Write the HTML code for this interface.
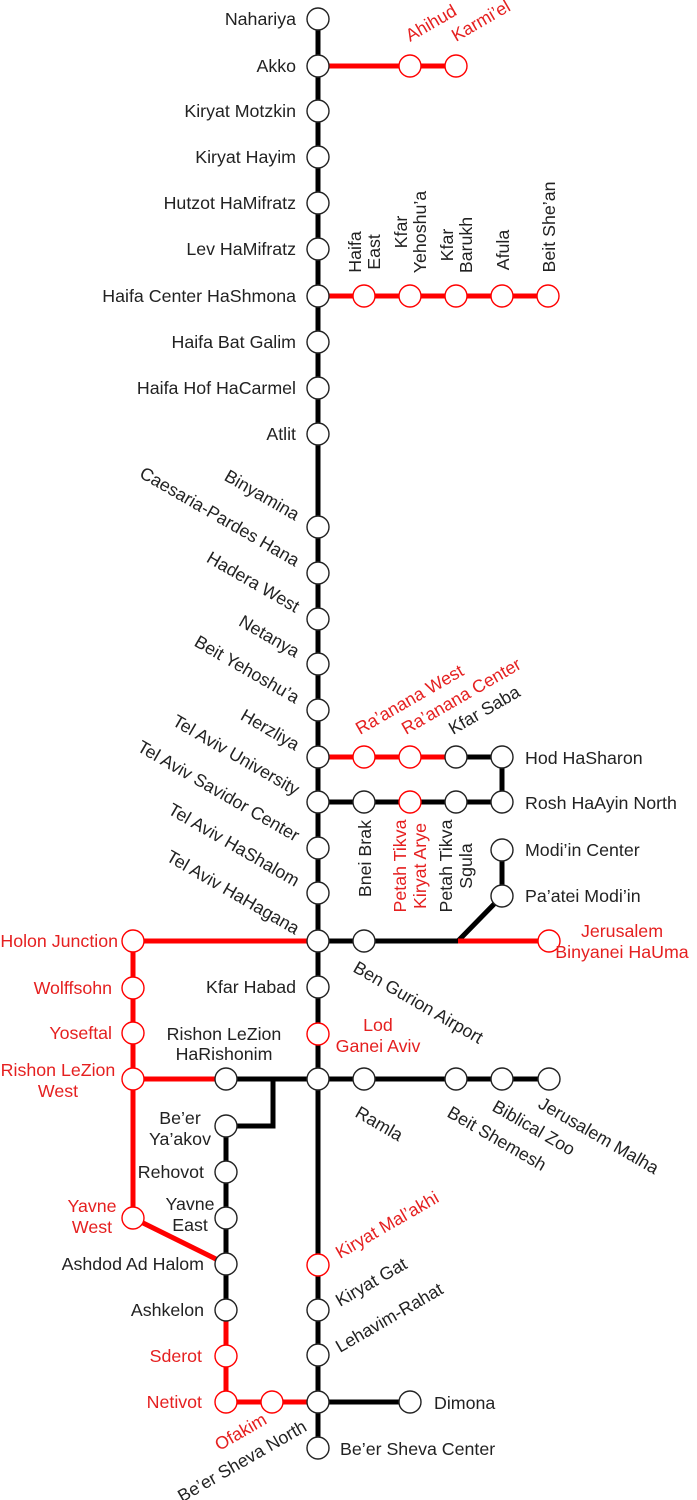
<!DOCTYPE html>
<html><head><meta charset="utf-8"><style>
html,body{margin:0;padding:0;background:#fff;}
svg{display:block;}
text{font-family:"Liberation Sans",Arial,sans-serif;font-size:17.8px;fill:#222;}
.r{fill:#e52020;}
.e{text-anchor:end;}
.m{text-anchor:middle;}
</style></head><body>
<svg width="697" height="1500" viewBox="0 0 697 1500" xmlns="http://www.w3.org/2000/svg">
<g fill="none" stroke-width="5" stroke-linejoin="miter">
<g stroke="#000">
<line x1="318" y1="19" x2="318" y2="1448"/>
<line x1="456" y1="757" x2="502" y2="757"/>
<line x1="502" y1="757" x2="502" y2="802"/>
<line x1="318" y1="802" x2="502" y2="802"/>
<line x1="502" y1="850" x2="502" y2="896"/>
<polyline points="318,941 458,941 502,896"/>
<line x1="226" y1="1079" x2="549" y2="1079"/>
<polyline points="226,1126 273,1126 273,1079"/>
<line x1="226" y1="1126" x2="226" y2="1310"/>
<line x1="318" y1="1402" x2="410" y2="1402"/>
</g>
<g stroke="#f00">
<line x1="318" y1="66" x2="456" y2="66"/>
<line x1="318" y1="296" x2="548" y2="296"/>
<line x1="318" y1="757" x2="456" y2="757"/>
<line x1="458" y1="941" x2="549" y2="941"/>
<line x1="133" y1="941" x2="318" y2="941"/>
<line x1="133" y1="941" x2="133" y2="1218"/>
<line x1="133" y1="1079" x2="226" y2="1079"/>
<line x1="133" y1="1218" x2="226" y2="1264"/>
<line x1="226" y1="1310" x2="226" y2="1402"/>
<line x1="226" y1="1402" x2="318" y2="1402"/>
</g>
</g>
<g fill="#fff" stroke="#222" stroke-width="1.4">
<circle cx="318" cy="19" r="11"/><circle cx="318" cy="66" r="11"/><circle cx="318" cy="111" r="11"/>
<circle cx="318" cy="157" r="11"/><circle cx="318" cy="203" r="11"/><circle cx="318" cy="249" r="11"/>
<circle cx="318" cy="296" r="11"/><circle cx="318" cy="342" r="11"/><circle cx="318" cy="388" r="11"/>
<circle cx="318" cy="434" r="11"/><circle cx="318" cy="527" r="11"/><circle cx="318" cy="573" r="11"/>
<circle cx="318" cy="619" r="11"/><circle cx="318" cy="664" r="11"/><circle cx="318" cy="710" r="11"/>
<circle cx="318" cy="757" r="11"/><circle cx="318" cy="802" r="11"/><circle cx="318" cy="848" r="11"/>
<circle cx="318" cy="893" r="11"/><circle cx="318" cy="941" r="11"/><circle cx="318" cy="987" r="11"/>
<circle cx="318" cy="1079" r="11"/><circle cx="318" cy="1310" r="11"/><circle cx="318" cy="1355" r="11"/>
<circle cx="318" cy="1402" r="11"/><circle cx="318" cy="1448" r="11"/>
<circle cx="456" cy="757" r="11"/><circle cx="502" cy="757" r="11"/>
<circle cx="364" cy="802" r="11"/><circle cx="456" cy="802" r="11"/><circle cx="502" cy="802" r="11"/>
<circle cx="502" cy="850" r="11"/><circle cx="502" cy="896" r="11"/><circle cx="364" cy="941" r="11"/>
<circle cx="226" cy="1079" r="11"/><circle cx="364" cy="1079" r="11"/><circle cx="456" cy="1079" r="11"/>
<circle cx="502" cy="1079" r="11"/><circle cx="549" cy="1079" r="11"/>
<circle cx="226" cy="1126" r="11"/><circle cx="226" cy="1172" r="11"/><circle cx="226" cy="1218" r="11"/>
<circle cx="226" cy="1264" r="11"/><circle cx="226" cy="1310" r="11"/><circle cx="410" cy="1402" r="11"/>
</g>
<g fill="#fff" stroke="#f00" stroke-width="1.4">
<circle cx="410" cy="66" r="11"/><circle cx="456" cy="66" r="11"/>
<circle cx="364" cy="296" r="11"/><circle cx="410" cy="296" r="11"/><circle cx="456" cy="296" r="11"/>
<circle cx="502" cy="296" r="11"/><circle cx="548" cy="296" r="11"/>
<circle cx="364" cy="757" r="11"/><circle cx="410" cy="757" r="11"/><circle cx="410" cy="802" r="11"/>
<circle cx="549" cy="941" r="11"/><circle cx="318" cy="1034" r="11"/><circle cx="318" cy="1265" r="11"/>
<circle cx="133" cy="941" r="11"/><circle cx="133" cy="988" r="11"/><circle cx="133" cy="1033" r="11"/>
<circle cx="133" cy="1079" r="11"/><circle cx="133" cy="1218" r="11"/>
<circle cx="226" cy="1356" r="11"/><circle cx="226" cy="1402" r="11"/><circle cx="272" cy="1402" r="11"/>
</g>
<g class="e">
<text x="296" y="25">Nahariya</text>
<text x="296" y="72">Akko</text>
<text x="296" y="117">Kiryat Motzkin</text>
<text x="296" y="163">Kiryat Hayim</text>
<text x="296" y="209">Hutzot HaMifratz</text>
<text x="296" y="255">Lev HaMifratz</text>
<text x="296" y="302">Haifa Center HaShmona</text>
<text x="296" y="348">Haifa Bat Galim</text>
<text x="296" y="394">Haifa Hof HaCarmel</text>
<text x="296" y="440">Atlit</text>
<text x="296" y="993">Kfar Habad</text>
<text x="204" y="1178">Rehovot</text>
<text x="204" y="1270">Ashdod Ad Halom</text>
<text x="204" y="1316">Ashkelon</text>
<text x="202" y="1362" class="r e">Sderot</text>
<text x="202" y="1408" class="r e">Netivot</text>
<text x="118" y="947" class="r e">Holon Junction</text>
<text x="112" y="994" class="r e">Wolffsohn</text>
<text x="112" y="1039" class="r e">Yoseftal</text>
</g>
<g class="e">
<text transform="translate(295,521) rotate(30)">Binyamina</text>
<text transform="translate(295,567) rotate(30)">Caesaria-Pardes Hana</text>
<text transform="translate(295,613) rotate(30)">Hadera West</text>
<text transform="translate(295,658) rotate(30)">Netanya</text>
<text transform="translate(295,704) rotate(30)">Beit Yehoshu’a</text>
<text transform="translate(295,751) rotate(30)">Herzliya</text>
<text transform="translate(295,796) rotate(30)">Tel Aviv University</text>
<text transform="translate(295,842) rotate(30)">Tel Aviv Savidor Center</text>
<text transform="translate(295,887) rotate(30)">Tel Aviv HaShalom</text>
<text transform="translate(295,935) rotate(30)">Tel Aviv HaHagana</text>
</g>
<g class="m">
<text x="58" y="1076" class="r">Rishon LeZion</text><text x="58" y="1097" class="r">West</text>
<text x="224" y="1040">Rishon LeZion</text><text x="224" y="1060">HaRishonim</text>
<text x="92" y="1212" class="r">Yavne</text><text x="92" y="1233" class="r">West</text>
<text x="180" y="1124">Be’er</text><text x="180" y="1145">Ya’akov</text>
<text x="190" y="1210">Yavne</text><text x="190" y="1231">East</text>
<text x="378" y="1031" class="r">Lod</text><text x="378" y="1052" class="r">Ganei Aviv</text>
<text x="622" y="937" class="r">Jerusalem</text><text x="622" y="958" class="r">Binyanei HaUma</text>
</g>
<text x="525" y="764">Hod HaSharon</text>
<text x="525" y="809">Rosh HaAyin North</text>
<text x="525" y="856">Modi’in Center</text>
<text x="525" y="902">Pa’atei Modi’in</text>
<text x="434" y="1409">Dimona</text>
<text x="340" y="1455">Be’er Sheva Center</text>
<text class="r" transform="translate(410,42) rotate(-30)">Ahihud</text>
<text class="r" transform="translate(456,42) rotate(-30)">Karmi’el</text>
<text class="r" transform="translate(360,735) rotate(-30)">Ra’anana West</text>
<text class="r" transform="translate(406,735) rotate(-30)">Ra’anana Center</text>
<text transform="translate(453,735) rotate(-30)">Kfar Saba</text>
<text class="r" transform="translate(340,1259) rotate(-30)">Kiryat Mal’akhi</text>
<text transform="translate(340,1307) rotate(-30)">Kiryat Gat</text>
<text transform="translate(340,1353) rotate(-30)">Lehavim-Rahat</text>
<text class="r e" transform="translate(268,1423) rotate(-30)">Ofakim</text>
<text class="e" transform="translate(308,1430) rotate(-30)">Be’er Sheva North</text>
<text transform="translate(352,971) rotate(30)">Ben Gurion Airport</text>
<text transform="translate(354,1116) rotate(30)">Ramla</text>
<text transform="translate(446,1116) rotate(30)">Beit Shemesh</text>
<text transform="translate(491,1110) rotate(30)">Biblical Zoo</text>
<text transform="translate(537,1107) rotate(30)">Jerusalem Malha</text>
<g class="m r">
<text transform="translate(361,252) rotate(-90)">Haifa</text>
<text transform="translate(380,252) rotate(-90)">East</text>
<text transform="translate(407,232) rotate(-90)">Kfar</text>
<text transform="translate(426,232) rotate(-90)">Yehoshu’a</text>
<text transform="translate(453,245) rotate(-90)">Kfar</text>
<text transform="translate(472,245) rotate(-90)">Barukh</text>
<text transform="translate(509,250) rotate(-90)">Afula</text>
<text transform="translate(555,227) rotate(-90)">Beit She’an</text>
</g>
<text class="e" transform="translate(371,820) rotate(-90)">Bnei Brak</text>
<g class="m">
<text class="r" transform="translate(406,866) rotate(-90)">Petah Tikva</text>
<text class="r" transform="translate(426,866) rotate(-90)">Kiryat Arye</text>
<text transform="translate(452,866) rotate(-90)">Petah Tikva</text>
<text transform="translate(472,866) rotate(-90)">Sgula</text>
</g>
</svg>
</body></html>
